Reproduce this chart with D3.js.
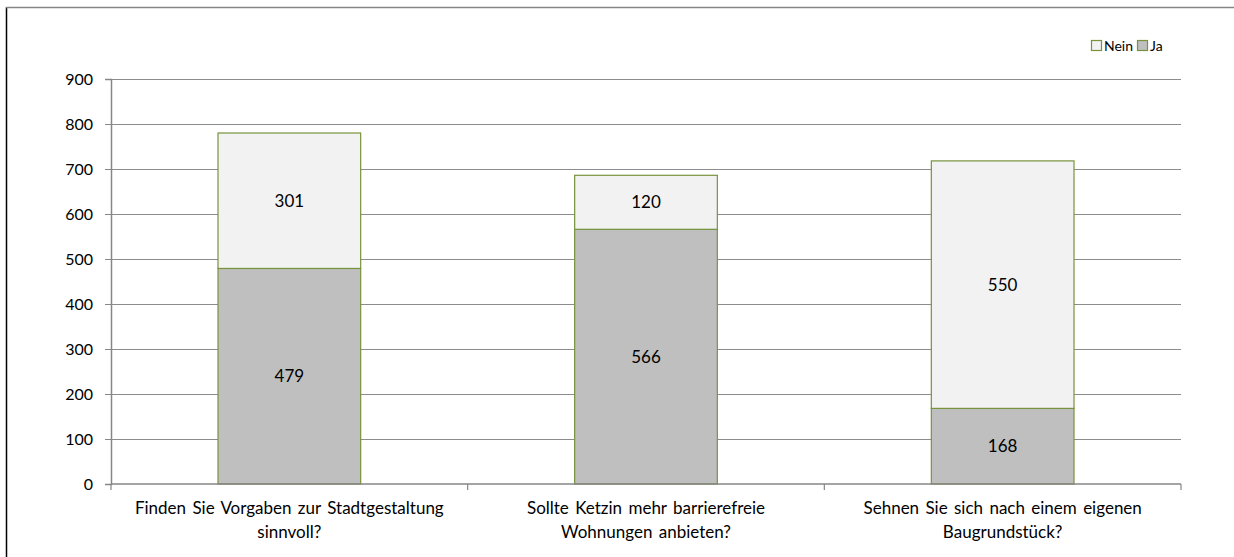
<!DOCTYPE html>
<html>
<head>
<meta charset="utf-8">
<script src="https://cdn.jsdelivr.net/npm/d3@7"></script>
<style>
  body { margin: 0; background: #fff; }
  svg { display: block; font-family: Lato, "Open Sans", sans-serif; }
</style>
</head>
<body>
<div id="chart"></div>
<script>
// Chart data
const categories = [
    ["Finden Sie Vorgaben zur Stadtgestaltung", "sinnvoll?"],
    ["Sollte Ketzin mehr barrierefreie", "Wohnungen anbieten?"],
    ["Sehnen Sie sich nach einem eigenen", "Baugrundstück?"]
];
const jaValues = [479, 566, 168];
const neinValues = [301, 120, 550];
const yTicks = [0, 100, 200, 300, 400, 500, 600, 700, 800, 900];

const W = 1234, H = 557;
const margin = {top: 79, right: 53, bottom: 73, left: 111};
const width = W - margin.left - margin.right,
      height = H - margin.top - margin.bottom;

const svg = d3.select("#chart").append("svg")
    .attr("width", W)
    .attr("height", H);

// outer frame (left + top edges)
svg.append("line").attr("x1", 6.5).attr("x2", 6.5).attr("y1", 7).attr("y2", H)
    .attr("stroke", "#000").attr("stroke-width", 1.5);
svg.append("line").attr("x1", 6).attr("x2", W).attr("y1", 7.5).attr("y2", 7.5)
    .attr("stroke", "#868686").attr("stroke-width", 1.5);

const g = svg.append("g")
    .attr("transform", "translate(" + margin.left + "," + margin.top + ")");

const x = d3.scaleBand().domain(d3.range(categories.length)).range([0, width]).paddingInner(0).paddingOuter(0);
const y = d3.scaleLinear().domain([0, 900]).range([height, 0]);

// gridlines
g.selectAll(".grid")
    .data(yTicks.slice(1))
    .enter().append("line")
    .attr("x1", 0).attr("x2", width)
    .attr("y1", d => Math.round(y(d)) + 0.5).attr("y2", d => Math.round(y(d)) + 0.5)
    .attr("stroke", "#8c8c8c").attr("stroke-width", 1);

// stacked bars
const barW = x.bandwidth() * 0.4;
const stacks = categories.map((c, i) => ({i: i, ja: jaValues[i], nein: neinValues[i]}));

const bars = g.selectAll(".bar").data(stacks).enter().append("g");

bars.append("rect")
    .attr("x", d => x(d.i) + (x.bandwidth() - barW) / 2)
    .attr("y", d => y(d.ja))
    .attr("width", barW)
    .attr("height", d => y(0) - y(d.ja))
    .attr("fill", "#bfbfbf").attr("stroke", "#77933c").attr("stroke-width", 1.2);

bars.append("rect")
    .attr("x", d => x(d.i) + (x.bandwidth() - barW) / 2)
    .attr("y", d => y(d.ja + d.nein))
    .attr("width", barW)
    .attr("height", d => y(d.ja) - y(d.ja + d.nein))
    .attr("fill", "#f2f2f2").attr("stroke", "#77933c").attr("stroke-width", 1.2);

// value labels
bars.append("text")
    .attr("x", d => x(d.i) + x.bandwidth() / 2)
    .attr("y", d => y(d.ja / 2))
    .attr("dy", "0.35em").attr("text-anchor", "middle")
    .attr("font-size", 17).attr("fill", "#000")
    .text(d => d.ja);

bars.append("text")
    .attr("x", d => x(d.i) + x.bandwidth() / 2)
    .attr("y", d => y(d.ja + d.nein / 2))
    .attr("dy", "0.35em").attr("text-anchor", "middle")
    .attr("font-size", 17).attr("fill", "#000")
    .text(d => d.nein);

// y axis
const yAxis = g.append("g")
    .call(d3.axisLeft(y).tickValues(yTicks).tickSize(6).tickPadding(12));
yAxis.select(".domain").attr("stroke", "#868686").attr("stroke-width", 1.5);
yAxis.selectAll(".tick line").attr("stroke", "#868686");
yAxis.selectAll("text").attr("font-size", 16).attr("fill", "#000")
    .attr("font-family", "Lato, 'Open Sans', sans-serif");

// x axis with category separators
const xAxis = g.append("g").attr("transform", "translate(0," + height + ")");
xAxis.append("line").attr("x1", 0).attr("x2", width).attr("y1", 0).attr("y2", 0)
    .attr("stroke", "#868686").attr("stroke-width", 1.5);
xAxis.selectAll(".sep")
    .data(d3.range(categories.length + 1))
    .enter().append("line")
    .attr("x1", d => d < categories.length ? x(d) : width)
    .attr("x2", d => d < categories.length ? x(d) : width)
    .attr("y1", 0).attr("y2", 6)
    .attr("stroke", "#868686").attr("stroke-width", 1.2);

const labels = xAxis.selectAll(".lab").data(categories).enter().append("text")
    .attr("text-anchor", "middle")
    .attr("font-size", 17).attr("fill", "#000")
    .attr("word-spacing", 2)
    .attr("transform", (d, i) => "translate(" + (x(i) + x.bandwidth() / 2) + ",0)");
labels.append("tspan").attr("x", 0).attr("y", 30).text(d => d[0]);
labels.append("tspan").attr("x", 0).attr("y", 54).text(d => d[1]);

// legend
const legendItems = [
    {name: "Nein", fill: "#f2f2f2", stroke: "#77933c"},
    {name: "Ja", fill: "#bfbfbf", stroke: "#77933c"}
];
const legend = svg.append("g").attr("transform", "translate(1091,40)");
const li = legend.selectAll("g").data(legendItems).enter().append("g")
    .attr("transform", (d, i) => "translate(" + (i * 46) + ",0)");
li.append("rect").attr("x", 0.5).attr("y", 0.5).attr("width", 10).attr("height", 10)
    .attr("fill", d => d.fill).attr("stroke", d => d.stroke).attr("stroke-width", 1.2);
li.append("text").attr("x", 13).attr("y", 6).attr("dy", "0.35em")
    .attr("font-size", 14).attr("fill", "#000").text(d => d.name);
</script>
</body>
</html>
